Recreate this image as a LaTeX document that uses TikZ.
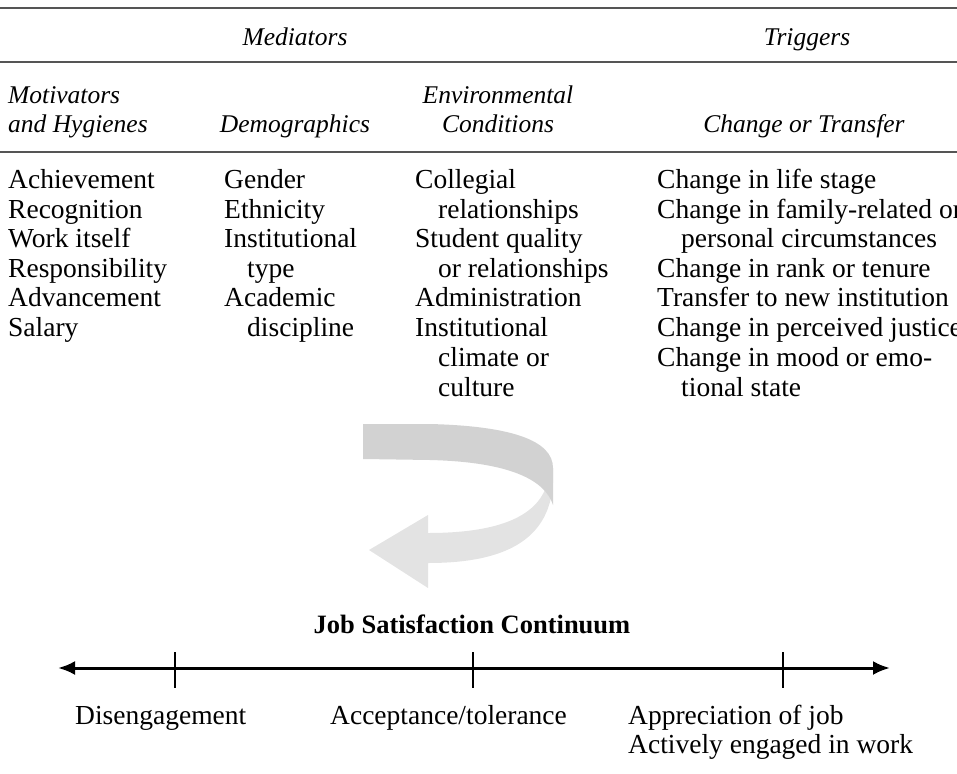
\documentclass[tikz,border=0pt]{standalone}
\usepackage{fontspec}
\setmainfont{Liberation Serif}
\usetikzlibrary{arrows.meta}
\definecolor{ruleg}{HTML}{555555}
\definecolor{ribdark}{HTML}{D2D2D2}
\definecolor{riblight}{HTML}{E3E3E3}
\begin{document}
\begin{tikzpicture}[x=1pt,y=-1pt,
 txt/.style={anchor=base west,inner sep=0pt,font=\fontsize{27.5}{30}\selectfont},
 hdr/.style={anchor=base,inner sep=0pt,font=\fontsize{25.5}{30}\selectfont\itshape},
 hdrw/.style={anchor=base west,inner sep=0pt,font=\fontsize{25.5}{30}\selectfont\itshape},
 rulestyle/.style={line width=2.5pt,draw=ruleg},
 axisline/.style={line width=3pt,draw=black},
 tick/.style={line width=2.5pt,draw=black}]
\useasboundingbox (0,0) rectangle (957,773);
\clip (0,0) rectangle (957,773);
% rules
\draw[rulestyle] (0,8) -- (957,8);
\draw[rulestyle] (0,62) -- (957,62);
\draw[rulestyle] (0,152) -- (957,152);
% top headers
\node[hdr] (med) at (295,46) {Mediators};
\node[hdr] (trg) at (807,46) {Triggers};
% column headers
\node[hdrw] (mot1) at (8,103) {Motivators};
\node[hdrw] (mot2) at (8,132) {and Hygienes};
\node[hdr] (dem) at (295,132) {Demographics};
\node[hdr] (env1) at (498,103) {Environmental};
\node[hdr] (env2) at (498,132) {Conditions};
\node[hdr] (chg) at (804,132) {Change or Transfer};
% column 1
\node[txt] (a1) at (8,188) {Achievement};
\node[txt] (a2) at (8,218) {Recognition};
\node[txt] (a3) at (8,247) {Work itself};
\node[txt] (a4) at (8,277) {Responsibility};
\node[txt] (a5) at (8,306) {Advancement};
\node[txt] (a6) at (8,336) {Salary};
% column 2
\node[txt] (b1) at (224,188) {Gender};
\node[txt] (b2) at (224,218) {Ethnicity};
\node[txt] (b3) at (224,247) {Institutional};
\node[txt] (b4) at (247,277) {type};
\node[txt] (b5) at (224,306) {Academic};
\node[txt] (b6) at (247,336) {discipline};
% column 3
\node[txt] (c1) at (415,188) {Collegial};
\node[txt] (c2) at (438,218) {relationships};
\node[txt] (c3) at (415,247) {Student quality};
\node[txt] (c4) at (438,277) {or relationships};
\node[txt] (c5) at (415,306) {Administration};
\node[txt] (c6) at (415,336) {Institutional};
\node[txt] (c7) at (438,366) {climate or};
\node[txt] (c8) at (438,396) {culture};
% column 4
\node[txt] (d1) at (657,188) {Change in life stage};
\node[txt] (d2) at (657,218) {Change in family-related or};
\node[txt] (d3) at (681,247) {personal circumstances};
\node[txt] (d4) at (657,277) {Change in rank or tenure};
\node[txt] (d5) at (657,306) {Transfer to new institution};
\node[txt] (d6) at (657,336) {Change in perceived justice};
\node[txt] (d7) at (657,366) {Change in mood or emo-};
\node[txt] (d8) at (681,396) {tional state};
% ribbon arrow
\fill[riblight] (553,468) .. controls (557,540) and (505,563) .. (428,563)
  -- (428,588) -- (369,550) -- (428,515) -- (428,533)
  .. controls (495,533) and (535,518) .. (546,487) -- cycle;
\fill[ribdark] (363,424) -- (430,424) .. controls (510,426) and (553,440) .. (553,468)
  -- (553,505) .. controls (545,480) and (510,462) .. (430,460) -- (363,459) -- cycle;
% continuum
\node[anchor=base,inner sep=0pt,font=\fontsize{26.5}{30}\selectfont\bfseries] (jsc) at (472,633) {Job Satisfaction Continuum};
\coordinate (L) at (58,668);
\coordinate (R) at (890,668);
\draw[axisline,{Latex[length=17pt,width=14pt]}-{Latex[length=17pt,width=14pt]}] (L) -- (R);
\coordinate (t1a) at (175,652); \coordinate (t1b) at (175,688);
\coordinate (t2a) at (473,652); \coordinate (t2b) at (473,688);
\coordinate (t3a) at (783,652); \coordinate (t3b) at (783,688);
\draw[tick] (t1a) -- (t1b);
\draw[tick] (t2a) -- (t2b);
\draw[tick] (t3a) -- (t3b);
\node[txt] (e1) at (75,724) {Disengagement};
\node[txt] (e2) at (330,724) {Acceptance/tolerance};
\node[txt] (e3) at (628,724) {Appreciation of job};
\node[txt] (e4) at (628,753) {Actively engaged in work};
\end{tikzpicture}
\end{document}
